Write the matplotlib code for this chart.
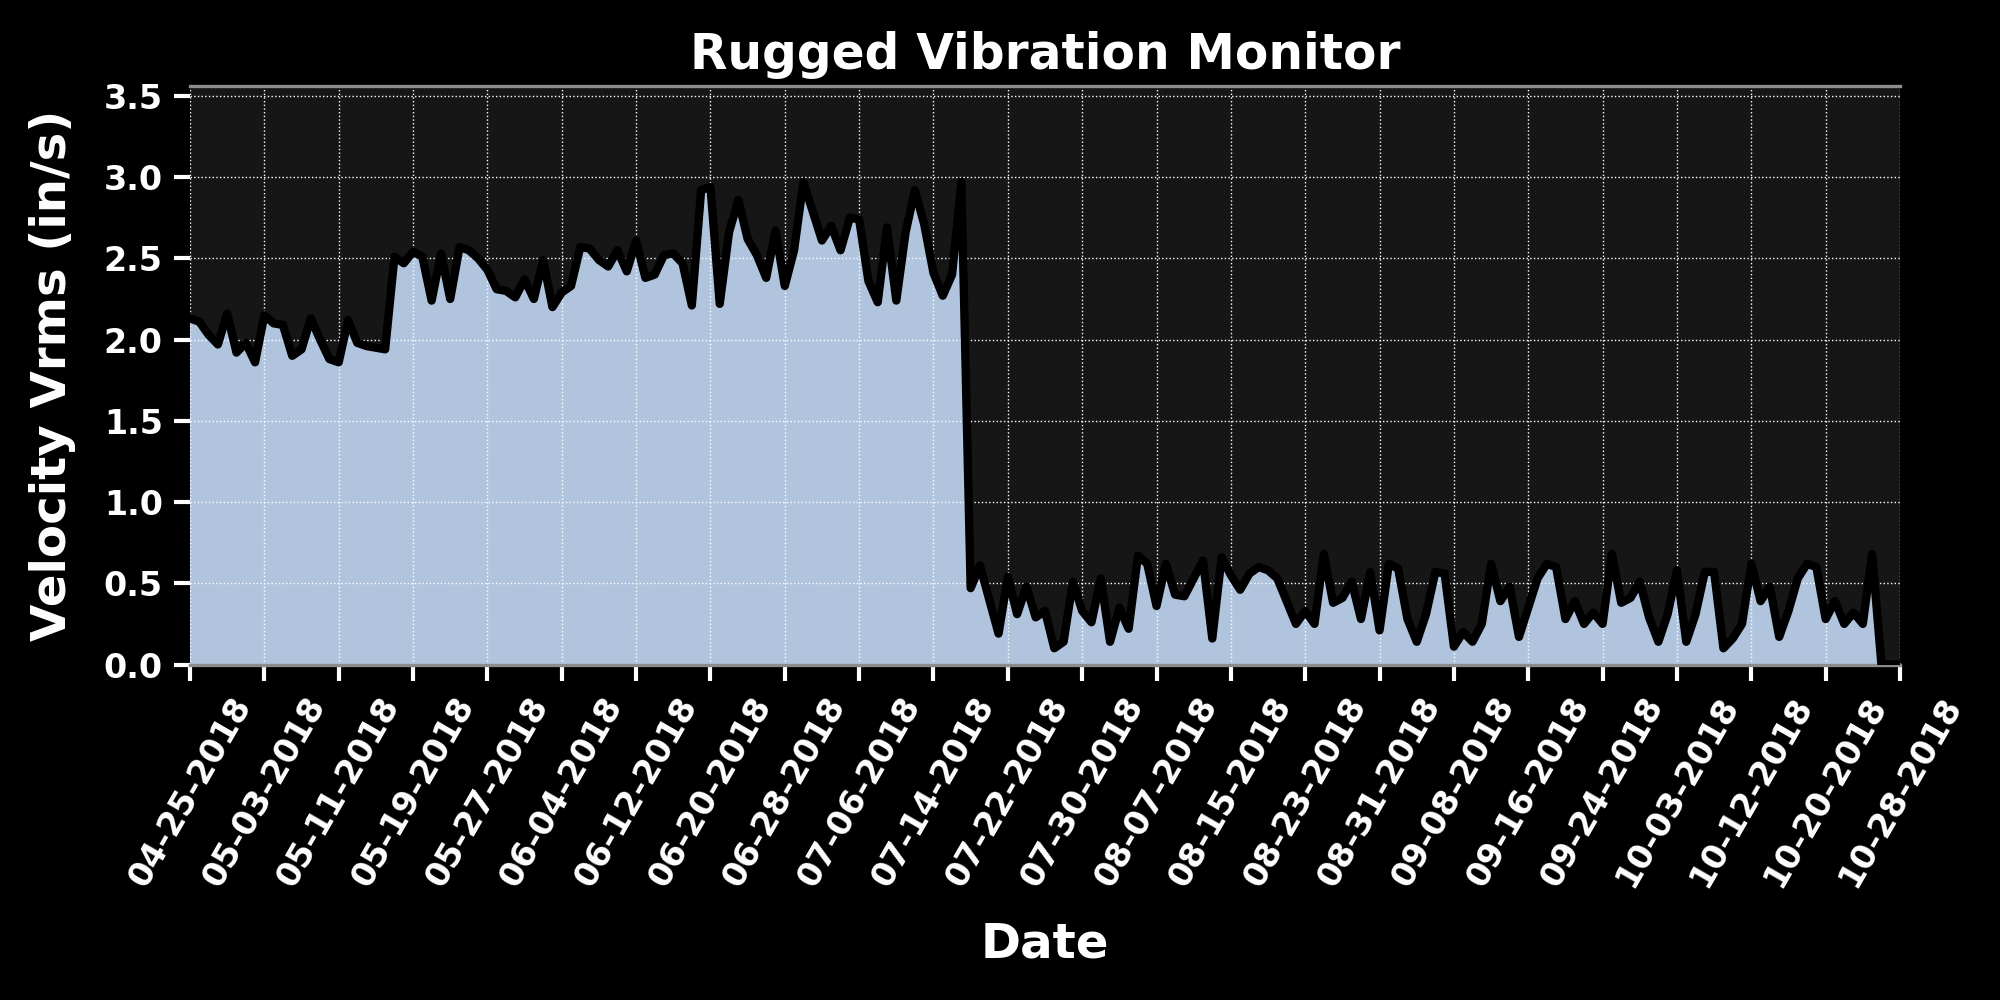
'''
Vibration monitor plot: daily velocity Vrms with a filled area under it.
'''

import numpy as np
from matplotlib import pyplot as plt

# daily velocity readings (in/s), one per sample
vrms_spring = [2.13, 2.11, 2.03, 1.97, 2.16, 1.92, 1.98, 1.86, 2.15, 2.10,
               2.09, 1.90, 1.94, 2.13, 2.00, 1.88, 1.86, 2.12, 1.98, 1.96,
               1.95, 1.94, 2.51, 2.47, 2.54, 2.51, 2.24, 2.53, 2.25, 2.57,
               2.55, 2.50, 2.43, 2.31, 2.30, 2.26, 2.37, 2.25, 2.49, 2.20,
               2.29, 2.33]
vrms_summer = [2.57, 2.56, 2.49, 2.45, 2.55, 2.42, 2.61, 2.38, 2.40, 2.52,
               2.53, 2.47, 2.21, 2.92, 2.94, 2.22, 2.66, 2.86, 2.62, 2.52,
               2.38, 2.67, 2.33, 2.55, 2.97, 2.79, 2.61, 2.70, 2.55, 2.75,
               2.74, 2.36, 2.23, 2.69, 2.24, 2.66, 2.92, 2.71, 2.41, 2.27,
               2.40, 2.97]
vrms_after_repair = [0.47, 0.61, 0.40, 0.19, 0.54, 0.31, 0.48, 0.29, 0.33,
                     0.10, 0.14, 0.51, 0.33, 0.26, 0.53, 0.14, 0.35, 0.22,
                     0.67, 0.62, 0.36, 0.62, 0.43, 0.42, 0.53,
                     0.64, 0.16, 0.66, 0.55, 0.46, 0.56, 0.60, 0.58, 0.53,
                     0.39, 0.25, 0.33, 0.25, 0.68, 0.38, 0.41, 0.51, 0.28,
                     0.57, 0.21, 0.62, 0.59, 0.28, 0.14]
vrms_autumn = [0.31, 0.57, 0.56, 0.11, 0.20, 0.14, 0.25, 0.62, 0.39, 0.48,
               0.17, 0.35, 0.53, 0.62, 0.60, 0.28, 0.39, 0.25, 0.32, 0.25,
               0.68, 0.38, 0.41, 0.51, 0.29, 0.14,
               0.31, 0.58, 0.14, 0.31, 0.57, 0.57, 0.10, 0.16, 0.25, 0.62,
               0.39, 0.48, 0.17, 0.33, 0.53, 0.62, 0.60, 0.28, 0.39, 0.25,
               0.32, 0.25, 0.68, 0.0, 0.0, 0.0]

# dates shown under every 8th sample
date_labels = ['04-25-2018', '05-03-2018', '05-11-2018', '05-19-2018',
               '05-27-2018', '06-04-2018', '06-12-2018', '06-20-2018',
               '06-28-2018', '07-06-2018', '07-14-2018', '07-22-2018',
               '07-30-2018', '08-07-2018', '08-15-2018', '08-23-2018',
               '08-31-2018', '09-08-2018', '09-16-2018', '09-24-2018',
               '10-03-2018', '10-12-2018', '10-20-2018', '10-28-2018']


def main():
    vrms = np.array(vrms_spring + vrms_summer + vrms_after_repair
                    + vrms_autumn)
    x = np.arange(len(vrms))

    fig = plt.figure(figsize=(10, 5), dpi=200, facecolor='black')
    ax = fig.add_axes([0.095, 0.3355, 0.855, 0.579])
    ax.set_facecolor('#161616')

    ax.fill_between(x, vrms, 0, color='lightsteelblue', zorder=1)
    ax.plot(x, vrms, color='black', lw=3, zorder=3)

    ax.set_xlim(x[0], x[-1])
    ax.set_ylim(0, vrms.max() * 1.2)
    ax.set_yticks(np.arange(0, 3.6, 0.5))

    ticks = np.linspace(x[0], x[-1], len(date_labels))
    ax.set_xticks(ticks)
    ax.set_xticklabels(date_labels, rotation=60)

    ax.grid(True, color='white', linestyle=':', lw=0.5, zorder=2)

    for side in ['left', 'right']:
        ax.spines[side].set_visible(False)
    for side in ['top', 'bottom']:
        ax.spines[side].set_color('#8c8c8c')
        ax.spines[side].set_linewidth(1.2)

    ax.tick_params(colors='white', length=5.8, width=1.5, pad=4,
                   labelsize=12)
    for lab in ax.get_xticklabels() + ax.get_yticklabels():
        lab.set_fontweight('bold')

    ax.set_title('Rugged Vibration Monitor', color='white',
                 fontsize=17.5, fontweight='bold', pad=6)
    ax.set_ylabel('Velocity Vrms (in/s)', color='white', fontsize=17.4,
                  fontweight='bold', labelpad=10)
    ax.set_xlabel('Date', color='white', fontsize=17.4, fontweight='bold',
                  labelpad=10)

    plt.savefig('out.png', dpi=200, facecolor='black')


if __name__ == "__main__":
    main()
